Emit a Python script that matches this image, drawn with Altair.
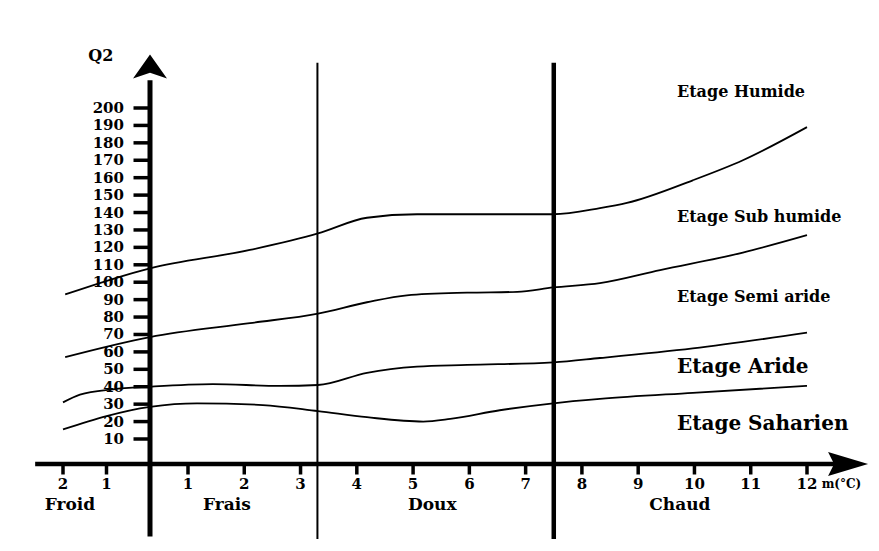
import altair as alt
import pandas as pd

# ---- boundary curves between the bioclimatic stages (m in °C, Q2) ----
humide_m = [-1.95, 0, 2.1, 3.31, 4.18, 5.07, 6.19, 7.49, 8.32, 8.8, 9.97, 10.86, 12]
humide_q2 = [93, 108, 118.5, 128, 137, 139, 139, 139, 142.5, 145.5, 158.5, 170, 189]

subhum_m = [-1.95, 0, 2.1, 3.31, 4.18, 4.89, 5.96, 6.85, 7.49, 8.32, 9.39, 10.86, 12]
subhum_q2 = [57, 68.5, 76.5, 82, 88.5, 92.5, 94, 94.5, 97, 99.5, 107, 117, 127]

semi_m = [-2, -1.61, -0.85, 0, 1.44, 2.63, 3.31, 4.18, 5.07, 5.96, 7.49, 8.32, 9.97, 12]
semi_q2 = [31, 35.5, 38.5, 40, 41.5, 40.5, 41, 48, 51.5, 52.5, 54, 56.5, 62, 71]

arid_m = [-2, 0, 1.16, 2.33, 3.31, 4.18, 5.18, 5.66, 6.54, 7.49, 8.32, 9.97, 12]
arid_q2 = [15.5, 28.5, 30.5, 29.5, 26, 22.5, 20, 21.5, 26.5, 30.5, 33, 36.5, 40.5]

# ---- winter variant boundaries ----
thin_boundary_m = [3.3]
thick_boundary_m = [7.5]
boundary_top_q2 = 226
boundary_bottom_q2 = -30

# ---- axes ----
y_ticks = [200, 190, 180, 170, 160, 150, 140, 130, 120, 110, 100, 90, 80, 70, 60, 50, 40, 30, 20, 10]
x_ticks = [-2, -1, 1, 2, 3, 4, 5, 6, 7, 8, 9, 10, 11, 12]
x_tick_labels = ["2", "1", "1", "2", "3", "4", "5", "6", "7", "8", "9", "10", "11", "12"]

zone_names = ["Froid", "Frais", "Doux", "Chaud"]
zone_m = [-1.84, 1.69, 5.34, 9.74]

etage_small = ["Etage Humide", "Etage Sub humide", "Etage Semi aride"]
etage_small_q2 = [209, 137.5, 91.5]
etage_big = ["Etage Aride", "Etage Saharien"]
etage_big_q2 = [51.3, 18.6]
etage_m = 9.69

x_axis_from, x_axis_to = -2.64, 12.6
y_axis_from, y_axis_to = -29, 216
y_arrow_q2 = 221
x_arrow_m = 12.73
q2_label_pos = (-1.13, 230)
unit_label_m = 12.26

FONT = "DejaVu Serif"

# ---- tables ----
rows = []
for name, ms, qs in [("h", humide_m, humide_q2), ("s", subhum_m, subhum_q2),
                     ("a", semi_m, semi_q2), ("r", arid_m, arid_q2)]:
    for i, (m, q) in enumerate(zip(ms, qs)):
        rows.append({"curve": name, "m": m, "q2": q, "i": i})
df_curves = pd.DataFrame(rows)

xs = alt.Scale(domain=[-2, 0, 1, 12], range=[55, 142, 180, 799], nice=False, zero=False)
ys = alt.Scale(domain=[0, 10, 200], range=[456, 431, 100], nice=False, zero=False)


def X(f):
    return alt.X(f, type="quantitative", scale=xs, axis=None)


def Y(f):
    return alt.Y(f, type="quantitative", scale=ys, axis=None)


curves = alt.Chart(df_curves).mark_line(
    interpolate="monotone", color="black", strokeWidth=1.8
).encode(x=X("m"), y=Y("q2"), detail="curve:N", order="i:Q")

thin_b = alt.Chart(pd.DataFrame({"m": thin_boundary_m, "t": boundary_top_q2, "b": boundary_bottom_q2})
                   ).mark_rule(color="black", strokeWidth=2).encode(
    x=X("m"), y=Y("t"), y2="b:Q")
thick_b = alt.Chart(pd.DataFrame({"m": thick_boundary_m, "t": boundary_top_q2, "b": boundary_bottom_q2})
                    ).mark_rule(color="black", strokeWidth=4.5).encode(
    x=X("m"), y=Y("t"), y2="b:Q")

x_axis = alt.Chart(pd.DataFrame({"a": [x_axis_from], "b": [x_axis_to], "q2": [0]})).mark_rule(
    color="black", strokeWidth=4.5).encode(x=X("a"), x2="b:Q", y=Y("q2"))
y_axis = alt.Chart(pd.DataFrame({"m": [0], "a": [y_axis_from], "b": [y_axis_to]})).mark_rule(
    color="black", strokeWidth=5).encode(x=X("m"), y=Y("a"), y2="b:Q")

y_arrow = alt.Chart(pd.DataFrame({"m": [0], "q2": [y_arrow_q2]})).mark_point(
    shape="M0,-1 L1,0.42 L0,0.08 L-1,0.42 Z", filled=True, size=1156, color="black",
    opacity=1, strokeWidth=0).encode(x=X("m"), y=Y("q2"))
x_arrow = alt.Chart(pd.DataFrame({"m": [x_arrow_m], "q2": [0]})).mark_point(
    shape="M1,0 L-1,-0.6 L-0.7,0 L-1,0.6 Z", filled=True, size=1600, color="black",
    opacity=1, strokeWidth=0).encode(x=X("m"), y=Y("q2"))

df_yt = pd.DataFrame({"q2": y_ticks, "m": 0, "label": [str(v) for v in y_ticks]})
y_tick_marks = alt.Chart(df_yt).mark_tick(
    orient="horizontal", size=15, thickness=3.5, xOffset=-9, color="black", opacity=1
).encode(x=X("m"), y=Y("q2"))
y_tick_labels = alt.Chart(df_yt).mark_text(
    align="right", baseline="middle", dx=-26, font=FONT, fontSize=15, fontWeight="bold", color="black"
).encode(x=X("m"), y=Y("q2"), text="label:N")

df_xt = pd.DataFrame({"m": x_ticks, "q2": 0, "label": x_tick_labels})
x_tick_marks = alt.Chart(df_xt).mark_tick(
    orient="vertical", size=9, thickness=3.5, yOffset=6, color="black", opacity=1
).encode(x=X("m"), y=Y("q2"))
x_tick_labels_l = alt.Chart(df_xt).mark_text(
    align="center", baseline="middle", dy=20, font=FONT, fontSize=15, fontWeight="bold", color="black"
).encode(x=X("m"), y=Y("q2"), text="label:N")

df_z = pd.DataFrame({"m": zone_m, "q2": 0, "label": zone_names})
zones = alt.Chart(df_z).mark_text(
    align="center", baseline="middle", dy=41, font=FONT, fontSize=17, fontWeight="bold", color="black"
).encode(x=X("m"), y=Y("q2"), text="label:N")

df_es = pd.DataFrame({"m": etage_m, "q2": etage_small_q2, "label": etage_small})
etage_s = alt.Chart(df_es).mark_text(
    align="left", baseline="middle", font=FONT, fontSize=16, fontWeight="bold", color="black"
).encode(x=X("m"), y=Y("q2"), text="label:N")
df_eb = pd.DataFrame({"m": etage_m, "q2": etage_big_q2, "label": etage_big})
etage_b = alt.Chart(df_eb).mark_text(
    align="left", baseline="middle", font=FONT, fontSize=20, fontWeight="bold", color="black"
).encode(x=X("m"), y=Y("q2"), text="label:N")

q2_label = alt.Chart(pd.DataFrame({"m": [q2_label_pos[0]], "q2": [q2_label_pos[1]], "label": ["Q2"]})).mark_text(
    align="center", baseline="middle", font=FONT, fontSize=16, fontWeight="bold", color="black"
).encode(x=X("m"), y=Y("q2"), text="label:N")
unit_label = alt.Chart(pd.DataFrame({"m": [unit_label_m], "q2": [0], "label": ["m(°C)"]})).mark_text(
    align="left", baseline="middle", dy=20, font=FONT, fontSize=12, fontWeight="bold", color="black"
).encode(x=X("m"), y=Y("q2"), text="label:N")

chart = alt.layer(
    curves, thin_b, thick_b, x_axis, y_axis, y_arrow, x_arrow,
    y_tick_marks, y_tick_labels, x_tick_marks, x_tick_labels_l, zones,
    etage_s, etage_b, q2_label, unit_label
).properties(
    width=863, height=535, autosize="none", padding=0, background="white"
).configure_view(stroke=None)

chart.save("out.html", embed_options={"renderer": "svg", "actions": False})
